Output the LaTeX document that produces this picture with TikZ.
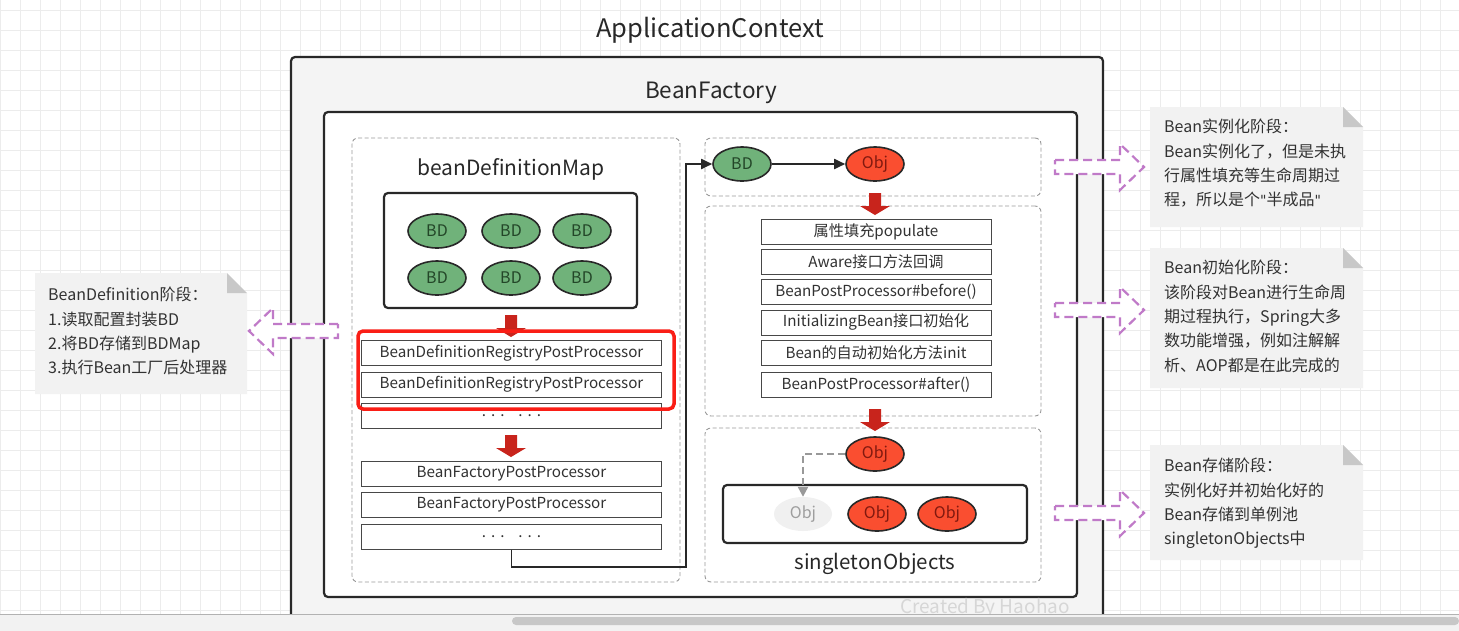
\documentclass[tikz,border=0pt]{standalone}
\usepackage{fontspec}
\setmainfont{Noto Sans CJK SC}
\newfontfamily\quotefont{DejaVu Sans}
\usetikzlibrary{arrows.meta,shapes.geometric,calc}
\definecolor{bdgreen}{RGB}{112,178,122}
\definecolor{bdtext}{RGB}{35,70,40}
\definecolor{objred}{RGB}{250,78,48}
\definecolor{objtext}{RGB}{130,25,15}
\definecolor{arrred}{RGB}{200,36,28}
\definecolor{hlred}{RGB}{250,30,22}
\definecolor{purp}{RGB}{192,122,200}
\definecolor{notebg}{RGB}{242,242,242}
\definecolor{foldc}{RGB}{200,200,200}
\definecolor{dark}{RGB}{40,40,40}
\definecolor{txt}{RGB}{50,50,50}
\definecolor{outerbg}{RGB}{244,244,244}
\definecolor{gridc}{RGB}{236,236,236}
\tikzset{
  bdnode/.style={ellipse, draw=dark, line width=1.6pt, fill=bdgreen, minimum width=58pt, minimum height=34pt, inner sep=0pt, text=bdtext, font=\fontsize{16}{16}\selectfont},
  objnode/.style={ellipse, draw=dark, line width=1.6pt, fill=objred, minimum width=58pt, minimum height=34pt, inner sep=0pt, text=objtext, font=\fontsize{16}{16}\selectfont},
  objfaint/.style={ellipse, fill=black!6, minimum width=58pt, minimum height=34pt, inner sep=0pt, text=black!38, font=\fontsize{16}{16}\selectfont},
  rowbox/.style={rectangle, draw=dark!85, line width=1pt, fill=white, minimum height=25pt, inner sep=0pt, text=txt, font=\fontsize{15.2}{15.2}\selectfont},
  leftrow/.style={rowbox, minimum width=300pt},
  liferow/.style={rowbox, minimum width=230pt},
  dashbox/.style={rectangle, draw=black!40, dashed, dash pattern=on 4pt off 2.5pt, line width=0.9pt, rounded corners=6pt, inner sep=0pt},
  solidbox/.style={rectangle, draw=dark, line width=2.2pt, rounded corners=4pt, inner sep=0pt},
  biglabel/.style={text=dark, inner sep=0pt},
  conn/.style={draw=dark, line width=1.8pt, -{Triangle[length=11pt,width=10pt]}},
  grayconn/.style={draw=black!40, line width=2.2pt, dash pattern=on 7pt off 4pt, -{Triangle[length=10pt,width=10pt]}},
  notetext/.style={anchor=north west, inner sep=0pt, align=left, text=txt, font=\fontsize{16}{24.4}\selectfont},
  blockdown/.pic={\fill[arrred] (-6,0) -- (6,0) -- (6,13) -- (15,13) -- (0,22) -- (-15,13) -- (-6,13) -- cycle;},
  hollowarrow/.pic={\draw[purp, fill=white, line width=2.2pt, dash pattern=on 9pt off 5pt] (0,-7) -- (65,-7) -- (65,-23) -- (89,0) -- (65,23) -- (65,7) -- (0,7) -- cycle;}
}
\newcommand{\notebox}[4]{%
  \fill[notebg] (#1,#2) -- (#3-20,#2) -- (#3,#2+20) -- (#3,#4) -- (#1,#4) -- cycle;
  \fill[foldc] (#3-20,#2) -- (#3,#2+20) -- (#3-20,#2+20) -- cycle;}
\newcommand{\dq}{{\quotefont\fontsize{14}{14}\selectfont\symbol{34}}}
\begin{document}
\begin{tikzpicture}[x=1pt,y=-1pt]
\useasboundingbox (0,0) rectangle (1459,630);
\clip (0,0) rectangle (1459,630);
\fill[white] (0,0) rectangle (1459,630);
\foreach \gx in {0,20,...,1460} {\draw[gridc, line width=0.6pt] (\gx,0) -- (\gx,630);}
\foreach \gy in {10,30,...,630} {\draw[gridc, line width=0.6pt] (0,\gy) -- (1459,\gy);}

% ApplicationContext
\node[biglabel, font=\fontsize{25.5}{25.5}\selectfont] (title) at (710,30) {ApplicationContext};
\node[solidbox, fill=outerbg, minimum width=812pt, minimum height=593pt] (appctx) at (697,353.5) {};
\node[biglabel, font=\fontsize{22.5}{22.5}\selectfont] (bflabel) at (711,93) {BeanFactory};
\node[solidbox, fill=white, minimum width=753pt, minimum height=485pt] (bf) at (700.5,354.5) {};

% left dashed area
\node[dashbox, minimum width=328pt, minimum height=444pt] (leftarea) at (516,360) {};
\node[biglabel, font=\fontsize{21}{21}\selectfont] (bdmaplabel) at (511,169) {beanDefinitionMap};
\node[solidbox, fill=white, minimum width=253pt, minimum height=115pt] (bdmap) at (510.5,250.5) {};
\node[bdnode] (bd1) at (437,231) {BD};
\node[bdnode] (bd2) at (511,231) {BD};
\node[bdnode] (bd3) at (582,231) {BD};
\node[bdnode] (bd4) at (437,278) {BD};
\node[bdnode] (bd5) at (511,278) {BD};
\node[bdnode] (bd6) at (582,278) {BD};
\pic at (511,315) {blockdown};
\node[leftrow] (r1) at (511.5,353) {BeanDefinitionRegistryPostProcessor};
\node[leftrow] (r2) at (511.5,384.5) {BeanDefinitionRegistryPostProcessor};
\node[leftrow] (r3) at (511.5,415.5) {.\hspace{5pt}.\hspace{5pt}.\hspace{14pt}.\hspace{5pt}.\hspace{5pt}.};
\node[rectangle, draw=hlred, line width=3.5pt, rounded corners=5pt, minimum width=316pt, minimum height=78pt, inner sep=0pt] (hl) at (516,370) {};
\pic at (511,435) {blockdown};
\node[leftrow] (r4) at (511.5,473.5) {BeanFactoryPostProcessor};
\node[leftrow] (r5) at (511.5,504.5) {BeanFactoryPostProcessor};
\node[leftrow] (r6) at (511.5,536.5) {.\hspace{5pt}.\hspace{5pt}.\hspace{14pt}.\hspace{5pt}.\hspace{5pt}.};

% right dashed areas
\node[dashbox, minimum width=336pt, minimum height=58pt] (inst) at (873,167) {};
\node[dashbox, minimum width=336pt, minimum height=210pt] (init) at (873,311) {};
\node[dashbox, minimum width=336pt, minimum height=154pt] (store) at (873,505) {};

\node[bdnode] (bdtop) at (742,164) {BD};
\node[objnode] (obj1) at (875,164) {Obj};
\coordinate (c1) at (686,567);
\draw[conn] (r6.south) |- (c1) |- (bdtop.west);
\draw[conn] (bdtop) -- (obj1);
\pic at (875,193) {blockdown};

\node[liferow] (l1) at (876,231.5) {属性填充populate};
\node[liferow] (l2) at (876,261.5) {Aware接口方法回调};
\node[liferow] (l3) at (876,291.5) {BeanPostProcessor\#before()};
\node[liferow] (l4) at (876,322.5) {InitializingBean接口初始化};
\node[liferow] (l5) at (876,352.5) {Bean的自动初始化方法init};
\node[liferow] (l6) at (876,384.5) {BeanPostProcessor\#after()};
\pic at (875,409) {blockdown};

\node[solidbox, fill=white, minimum width=304pt, minimum height=58pt] (singleton) at (875,514) {};
\node[objnode] (obj2) at (875,454) {Obj};
\node[objfaint] (objf) at (803,514) {Obj};
\node[objnode] (obj3) at (877,514) {Obj};
\node[objnode] (obj4) at (947,514) {Obj};
\draw[grayconn] (obj2.west) -| (objf.north);
\node[biglabel, font=\fontsize{20.5}{20.5}\selectfont] (solabel) at (875,564) {singletonObjects};

% notes
\notebox{35}{273}{247}{394}
\node[notetext] (n0) at (48,287) {BeanDefinition阶段：\\1.读取配置封装BD\\2.将BD存储到BDMap\\3.执行Bean工厂后处理器};
\pic[xscale=-1] at (338,331) {hollowarrow};

\notebox{1150}{107}{1363}{227}
\node[notetext] (n1) at (1164,119) {Bean实例化阶段：\\Bean实例化了，但是未执\\行属性填充等生命周期过\\程，所以是个\dq 半成品\dq};
\pic at (1055,167) {hollowarrow};

\notebox{1150}{248}{1363}{388}
\node[notetext] (n2) at (1164,260) {Bean初始化阶段：\\该阶段对Bean进行生命周\\期过程执行，Spring大多\\数功能增强，例如注解解\\析、AOP都是在此完成的};
\pic at (1055,310) {hollowarrow};

\notebox{1150}{445}{1363}{560}
\node[notetext] (n3) at (1164,458) {Bean存储阶段：\\实例化好并初始化好的\\Bean存储到单例池\\singletonObjects中};
\pic at (1055,513) {hollowarrow};

% watermark and window bottom
\node[text=black!16, font=\fontsize{19}{19}\selectfont, inner sep=0pt] (wm) at (985,608) {Created By Haohao};
\fill[black!5] (-5,614) rectangle (1465,640);
\draw[black!30, line width=0.8pt] (0,614) -- (1459,614);
\fill[black!22, rounded corners=4pt] (512,617) rectangle (1459,625);
\end{tikzpicture}
\end{document}
